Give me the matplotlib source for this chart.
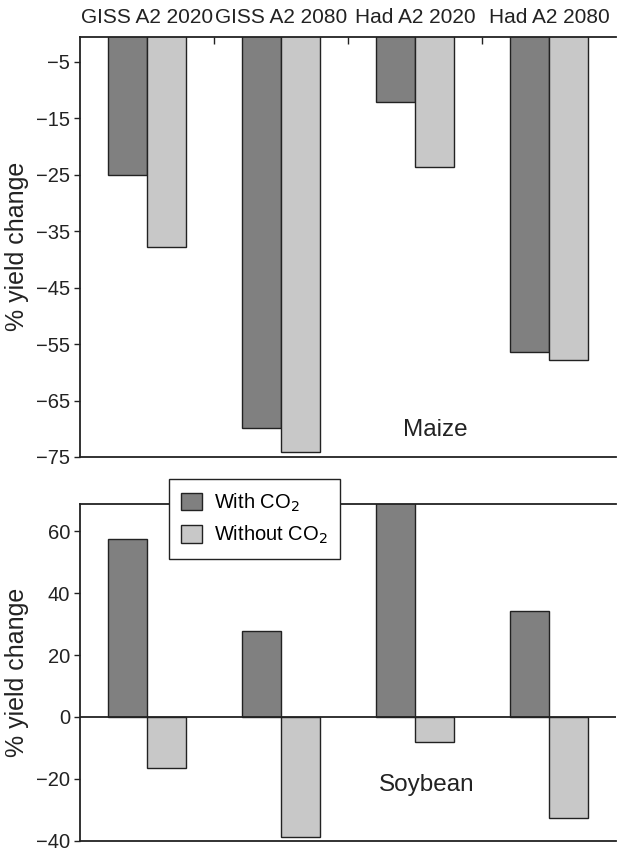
import matplotlib
matplotlib.use("Agg")
import matplotlib.pyplot as plt
import numpy as np
from matplotlib.patches import Patch

plt.rcParams['font.family'] = ['Liberation Sans', 'DejaVu Sans']
plt.rcParams['axes.unicode_minus'] = True

categories = ["GISS A2 2020", "GISS A2 2080", "Had A2 2020", "Had A2 2080"]
maize_with = [-25.0, -69.8, -12.1, -56.4]
maize_without = [-37.8, -74.1, -23.6, -57.8]
soy_with = [57.6, 27.7, 70.0, 34.2]
soy_without = [-16.6, -38.8, -8.0, -32.7]
maize_ticks = [-5, -15, -25, -35, -45, -55, -65, -75]
soy_ticks = [60, 40, 20, 0, -20, -40]

dark = '#808080'
light = '#c8c8c8'
ink = '#222222'
W, H = 618, 852
fig = plt.figure(figsize=(W/100, H/100), dpi=100)

def fx(px):
    return px / W

def fy(py):
    return 1 - py / H

ax1 = fig.add_axes([fx(80), fy(457), fx(616) - fx(80), fy(36.7) - fy(457)])
ax2 = fig.add_axes([fx(80), fy(840.5), fx(616) - fx(80), fy(504.3) - fy(840.5)])

x = np.arange(len(categories))
bw = 0.288
for ax, w, wo in [(ax1, maize_with, maize_without), (ax2, soy_with, soy_without)]:
    ax.bar(x - bw/2, w, bw, color=dark, edgecolor=ink, linewidth=1.0)
    ax.bar(x + bw/2, wo, bw, color=light, edgecolor=ink, linewidth=1.0)
    ax.set_xlim(-0.5, 3.5)
    ax.spines['right'].set_visible(False)
    for s in ['left', 'top', 'bottom']:
        ax.spines[s].set_linewidth(1.3)
        ax.spines[s].set_color(ink)
    ax.tick_params(axis='y', direction='out', length=4, width=1, labelsize=14.5,
                   pad=3, colors=ink)
    ax.set_ylabel('% yield change', fontsize=18, color=ink, labelpad=5)

ax1.set_ylim(-75, -0.6)
ax1.set_yticks(maize_ticks)
ax1.set_xticks([0.5, 1.5, 2.5])
ax1.tick_params(axis='x', which='both', bottom=False, top=True, labelbottom=False,
                direction='in', length=5, width=1, colors=ink)
for i, c in enumerate(categories):
    ax1.annotate(c, xy=(i, 1), xycoords=ax1.get_xaxis_transform(),
                 xytext=(0, 10), textcoords='offset points',
                 ha='center', va='baseline', fontsize=15, color=ink)
ax1.text(2.15, -70.2, 'Maize', fontsize=17.5, ha='center', va='center', color=ink)

ax2.set_ylim(-40, 68.8)
ax2.set_yticks(soy_ticks)
ax2.set_xticks([])
for lab in ax2.get_yticklabels():
    lab.set_verticalalignment('center_baseline')
ax2.axhline(0, color=ink, linewidth=1.3)
ax2.text(2.09, -22.1, 'Soybean', fontsize=17.5, ha='center', va='center', color=ink)

handles = [Patch(facecolor=dark, edgecolor=ink, label='With CO$_2$'),
           Patch(facecolor=light, edgecolor=ink, label='Without CO$_2$')]
leg = fig.legend(handles=handles, loc='upper left', bbox_to_anchor=(fx(169), fy(479)),
                 fontsize=14.5, frameon=True, fancybox=False, framealpha=1,
                 edgecolor=ink, handlelength=1.0, handleheight=0.95,
                 borderpad=0.62, labelspacing=0.5, handletextpad=0.62,
                 borderaxespad=0)
leg.get_frame().set_linewidth(1.0)
leg.set_zorder(10)

fig.savefig('out.png', dpi=100)
